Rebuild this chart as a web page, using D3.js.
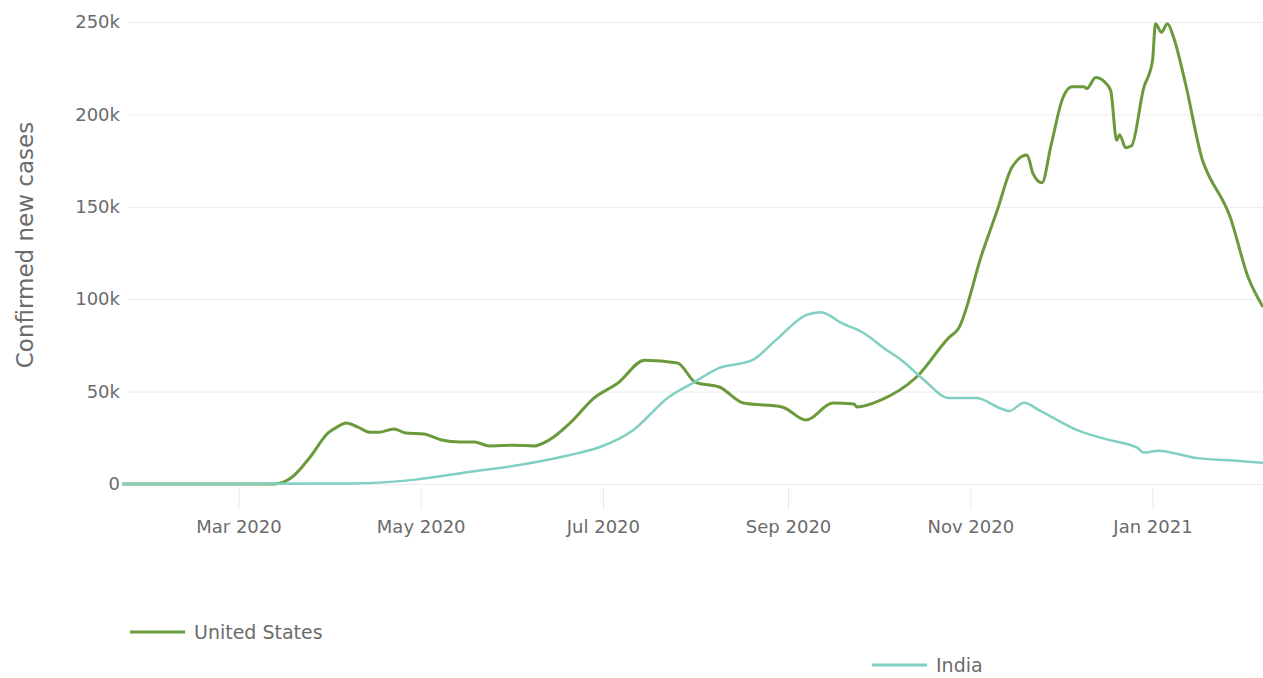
<!DOCTYPE html>
<html>
    <head>
        <script src="https://d3js.org/d3.v7.min.js"></script>
        <style>
            body { margin: 0; background: #fff; }
            text { font-family: "DejaVu Sans", sans-serif; fill: #6b6b6b; }
        </style>
    </head>
    <body>
        <script>
            // US 7-day average of confirmed new cases (thousands)
            var usDates = ["2020-01-22","2020-03-13","2020-03-19","2020-03-25","2020-03-31","2020-04-03","2020-04-06","2020-04-10",
                "2020-04-14","2020-04-17","2020-04-22","2020-04-26","2020-05-02","2020-05-08","2020-05-14","2020-05-19","2020-05-24",
                "2020-06-01","2020-06-08","2020-06-13","2020-06-20","2020-06-28","2020-07-06","2020-07-15","2020-07-26","2020-08-01",
                "2020-08-09","2020-08-17","2020-08-30","2020-09-07","2020-09-16","2020-09-23","2020-09-24","2020-10-02","2020-10-14",
                "2020-10-25","2020-10-28","2020-11-05","2020-11-10","2020-11-15","2020-11-20","2020-11-22","2020-11-25","2020-11-28",
                "2020-12-02","2020-12-05","2020-12-09","2020-12-10","2020-12-13","2020-12-16","2020-12-18","2020-12-20","2020-12-21",
                "2020-12-23","2020-12-25","2020-12-29","2021-01-01","2021-01-02","2021-01-04","2021-01-06","2021-01-08","2021-01-12",
                "2021-01-18","2021-01-19","2021-01-27","2021-02-02","2021-02-07"];
            var usValues = [0,0,3.8,14.6,27.6,30.8,33,30.8,
                28,28,29.8,27.6,27,23.8,22.7,22.7,20.6,
                21,20.6,23.8,33,46.5,54.6,67,65.5,55,
                52.5,43.8,41.7,34.6,43.8,43.3,41.7,45.4,57.9,
                79.5,84,125,148,171.5,178,168,163,183,
                209,215,215,214,220,217.5,213,186,189,
                182,183,214,229,249,244.5,249,242,217,
                174,170,144.5,112,95.8];

            // India 7-day average of confirmed new cases (thousands)
            var indiaDates = ["2020-01-22","2020-04-08","2020-04-30","2020-05-17","2020-06-03","2020-06-20","2020-06-30","2020-07-11",
                "2020-07-23","2020-07-31","2020-08-09","2020-08-20","2020-08-28","2020-09-07","2020-09-12","2020-09-19","2020-09-26",
                "2020-10-04","2020-10-09","2020-10-16","2020-10-25","2020-11-03","2020-11-11","2020-11-14","2020-11-19","2020-11-24",
                "2020-12-07","2020-12-17","2020-12-27","2020-12-29","2021-01-03","2021-01-10","2021-01-16","2021-01-30","2021-02-07"];
            var indiaValues = [0,0.3,2.5,6.5,10.3,15.7,20,29,
                47,54.6,62.8,67,78,91.4,93,87,82,
                72.5,67,57,46.5,46.5,41,39.5,44,40,
                29,24,19.5,17,18,16,14,12.5,11.5];

            var yTicks = [0,50,100,150,200,250];
            var xTicks = ["2020-03-01","2020-05-01","2020-07-01","2020-09-01","2020-11-01","2021-01-01"];
            var seriesNames = ["United States","India"];
            var seriesColors = ["#6a9a3b","#80cfc3"];

            var w = 1263;
            var h = 678;
            var parse = d3.timeParse("%Y-%m-%d");

            var us = usDates.map(function(d,i){return {date:parse(d), value:usValues[i]};});
            var india = indiaDates.map(function(d,i){return {date:parse(d), value:indiaValues[i]};});

            var xScale = d3.scaleTime()
                .domain([parse("2020-01-22"), parse("2021-02-07")])
                .range([122, 1263]);
            var yScale = d3.scaleLinear()
                .domain([0,250])
                .range([484,22]);

            var svg = d3.select("body").append("svg")
                .attr("width",w)
                .attr("height",h);

            // y axis + gridlines
            var yAxis = d3.axisLeft(yScale)
                .tickValues(yTicks)
                .tickSize(-(w-128))
                .tickPadding(8)
                .tickFormat(function(d){return d==0 ? "0" : d+"k";});
            var gy = svg.append("g").attr("transform","translate(128,0)").call(yAxis);
            gy.select(".domain").remove();
            gy.selectAll("line").attr("stroke","#ececec");
            gy.selectAll("text").attr("font-size",18).attr("fill","#6b6b6b");

            // x axis
            var xAxis = d3.axisBottom(xScale)
                .tickValues(xTicks.map(parse))
                .tickSize(22)
                .tickPadding(10)
                .tickFormat(d3.timeFormat("%b %Y"));
            var gx = svg.append("g").attr("transform","translate(0,488)").call(xAxis);
            gx.select(".domain").remove();
            gx.selectAll("line").attr("stroke","#e8e8e8");
            gx.selectAll("text").attr("font-size",18).attr("fill","#6b6b6b");

            svg.append("text")
                .attr("transform","translate(33,245) rotate(-90)")
                .attr("text-anchor","middle")
                .attr("font-size",23)
                .attr("fill","#777")
                .text("Confirmed new cases");

            var line = d3.line()
                .x(function(d){return xScale(d.date);})
                .y(function(d){return yScale(d.value);})
                .curve(d3.curveMonotoneX);

            svg.append("path").datum(us)
                .attr("fill","none")
                .attr("stroke",seriesColors[0])
                .attr("stroke-width",3)
                .attr("stroke-linejoin","round")
                .attr("d",line);
            svg.append("path").datum(india)
                .attr("fill","none")
                .attr("stroke",seriesColors[1])
                .attr("stroke-width",2.5)
                .attr("stroke-linejoin","round")
                .attr("d",line);

            // legend
            var legendPos = [[130,632],[872,665]];
            seriesNames.forEach(function(name,i){
                var g = svg.append("g").attr("transform","translate("+legendPos[i][0]+","+legendPos[i][1]+")");
                g.append("line").attr("x1",0).attr("x2",55).attr("y1",0).attr("y2",0)
                    .attr("stroke",seriesColors[i]).attr("stroke-width",3);
                g.append("text").attr("x",64).attr("y",7).attr("font-size",19).attr("fill","#6b6b6b").text(name);
            });
        </script>
    </body>
</html>
